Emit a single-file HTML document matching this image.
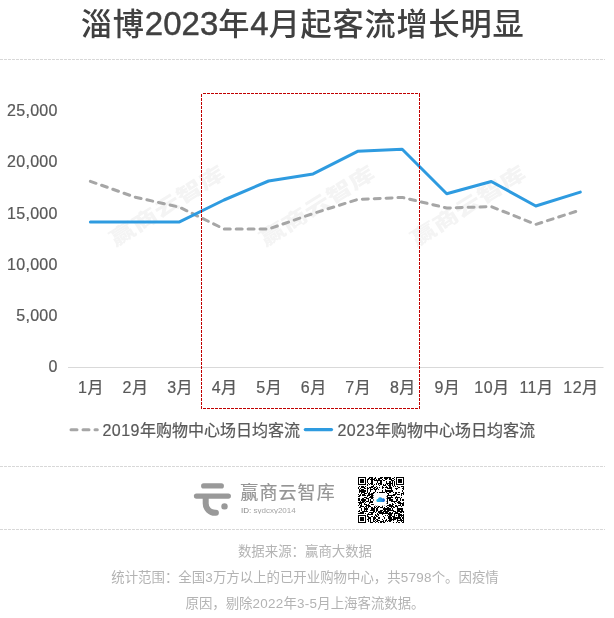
<!DOCTYPE html>
<html lang="zh-CN">
<head>
<meta charset="utf-8">
<title>淄博2023年4月起客流增长明显</title>
<style>
html,body{margin:0;padding:0;background:#fff;}
body{width:614px;height:618px;position:relative;overflow:hidden;font-family:"Liberation Sans","Noto Sans CJK SC",sans-serif;}
.abs{position:absolute;}
#title{position:absolute;left:0;width:605.4px;top:0px;height:48px;line-height:48px;text-align:center;font-size:31.2px;letter-spacing:0.8px;font-weight:500;color:#404040;white-space:nowrap;}
.td{font-size:33px;letter-spacing:0;-webkit-text-stroke:0.45px #404040;}
.rh{position:absolute;height:1px;background:repeating-linear-gradient(to right,#c00000 0,#c00000 3px,transparent 3px,transparent 4px);}
.rv{position:absolute;width:1px;background:repeating-linear-gradient(to bottom,#c00000 0,#c00000 3px,transparent 3px,transparent 4px);}
.dv{position:absolute;left:0;width:605px;height:1px;background:repeating-linear-gradient(to right,#d8d8d8 0,#d8d8d8 3px,transparent 3px,transparent 4px);}
.d{letter-spacing:0.45px;}
.yl,.xl,.lg{-webkit-text-stroke:0.22px #595959;}
.fd{letter-spacing:0.3px;}
.yl{position:absolute;left:0;width:57.75px;letter-spacing:0.3px;height:20px;line-height:20px;text-align:right;font-size:16px;color:#595959;white-space:nowrap;}
.xl{position:absolute;top:378px;width:60px;height:20px;line-height:20px;text-align:center;font-size:16px;color:#595959;white-space:nowrap;}
.lg{position:absolute;top:421px;height:20px;line-height:20px;font-size:16px;color:#595959;white-space:nowrap;}
.wm{position:absolute;width:160px;height:40px;line-height:40px;text-align:center;font-size:20px;font-weight:900;letter-spacing:0.3px;padding-left:0.3px;box-sizing:border-box;color:#f4f4f4;transform:rotate(-32.3deg) scaleX(1.3);white-space:nowrap;}
#brand{position:absolute;left:240.3px;top:480px;height:26px;line-height:26px;font-size:18px;font-weight:400;letter-spacing:1.1px;color:#959595;-webkit-text-stroke:0.2px #959595;white-space:nowrap;}
#bid{position:absolute;left:241px;top:503.9px;height:24px;line-height:24px;font-size:16px;color:#a4a4a4;white-space:nowrap;transform:scale(0.5);transform-origin:0 0;}
.ft{position:absolute;left:0;width:610px;height:26px;line-height:26px;text-align:center;font-size:13.42px;color:#b3b3b3;white-space:nowrap;}
svg{position:absolute;left:0;top:0;}
</style>
</head>
<body>
<div class="wm" style="left:86.5px;top:186.2px">赢商云智库</div>
<div class="wm" style="left:237px;top:186.2px">赢商云智库</div>
<div class="wm" style="left:387.5px;top:186.2px">赢商云智库</div>

<div id="title">淄博<span class="td">2023</span>年<span class="td">4</span>月起客流增长明显</div>
<div class="dv" style="top:59px"></div>
<div class="yl" style="top:101.1px">25,000</div>
<div class="yl" style="top:152.3px">20,000</div>
<div class="yl" style="top:203.6px">15,000</div>
<div class="yl" style="top:254.8px">10,000</div>
<div class="yl" style="top:306.1px">5,000</div>
<div class="yl" style="top:357.3px">0</div>

<div class="xl" style="left:60.8px"><span class="d">1</span>月</div>
<div class="xl" style="left:105.3px"><span class="d">2</span>月</div>
<div class="xl" style="left:149.9px"><span class="d">3</span>月</div>
<div class="xl" style="left:194.4px"><span class="d">4</span>月</div>
<div class="xl" style="left:239.0px"><span class="d">5</span>月</div>
<div class="xl" style="left:283.5px"><span class="d">6</span>月</div>
<div class="xl" style="left:328.0px"><span class="d">7</span>月</div>
<div class="xl" style="left:372.6px"><span class="d">8</span>月</div>
<div class="xl" style="left:417.1px"><span class="d">9</span>月</div>
<div class="xl" style="left:461.7px"><span class="d">10</span>月</div>
<div class="xl" style="left:506.2px"><span class="d">11</span>月</div>
<div class="xl" style="left:550.7px"><span class="d">12</span>月</div>

<svg width="614" height="618" viewBox="0 0 614 618">
  <line x1="68" y1="367.5" x2="603.5" y2="367.5" stroke="#d9d9d9" stroke-width="1"/>
  <polyline points="90.4,181.3 134.9,197.1 179.5,207.2 224.0,229.0 268.6,229.0 313.1,213.5 357.6,199.5 402.2,197.4 446.7,208.0 491.3,206.6 535.8,224.4 580.3,210.0" fill="none" stroke="#a6a6a6" stroke-width="3" stroke-dasharray="5.95 5.95" stroke-linejoin="round" stroke-linecap="round"/>
  <polyline points="90.4,221.9 134.9,221.9 179.5,221.9 224.0,200.0 268.6,181.0 313.1,173.9 357.6,151.3 402.2,149.3 446.7,193.7 491.3,181.5 535.8,206.0 580.3,192.1" fill="none" stroke="#2e9be0" stroke-width="3" stroke-linejoin="round" stroke-linecap="round"/>
  <!-- legend samples -->
  <line x1="71" y1="429.8" x2="97.3" y2="429.8" stroke="#a6a6a6" stroke-width="3" stroke-dasharray="6 6" stroke-linecap="round"/>
  <line x1="305.3" y1="429.6" x2="331.5" y2="429.6" stroke="#2e9be0" stroke-width="3.2" stroke-linecap="round"/>
  <!-- logo -->
  <g fill="none" stroke="#999" stroke-linecap="round">
    <line x1="203.6" y1="485.9" x2="221.4" y2="485.9" stroke-width="5.1"/>
    <line x1="196.5" y1="496.1" x2="228.3" y2="496.1" stroke-width="5.3"/>
    <path d="M205.7 497 V503.4 A9.4 9.4 0 0 0 215.1 512.8 H215.9" stroke-width="6"/>
  </g>
  <circle cx="224.5" cy="506.4" r="3.2" fill="#999"/>
  <!-- qr -->
  <g transform="translate(358 477)">
    <rect x="-1" y="-1" width="48" height="48" fill="#fff"/>
    <path d="M0 0h8v1h-8zM11 0h4v1h-4zM17 0h1v1h-1zM22 0h3v1h-3zM26 0h7v1h-7zM36 0h1v1h-1zM38 0h8v1h-8zM0 1h1v1h-1zM7 1h1v1h-1zM10 1h2v1h-2zM13 1h2v1h-2zM16 1h2v1h-2zM20 1h4v1h-4zM26 1h4v1h-4zM31 1h2v1h-2zM34 1h2v1h-2zM38 1h1v1h-1zM45 1h1v1h-1zM0 2h1v1h-1zM2 2h4v1h-4zM7 2h1v1h-1zM9 2h2v1h-2zM12 2h5v1h-5zM18 2h1v1h-1zM20 2h2v1h-2zM24 2h1v1h-1zM27 2h2v1h-2zM31 2h3v1h-3zM36 2h1v1h-1zM38 2h1v1h-1zM40 2h4v1h-4zM45 2h1v1h-1zM0 3h1v1h-1zM2 3h4v1h-4zM7 3h1v1h-1zM9 3h1v1h-1zM13 3h2v1h-2zM16 3h8v1h-8zM25 3h2v1h-2zM33 3h3v1h-3zM38 3h1v1h-1zM40 3h4v1h-4zM45 3h1v1h-1zM0 4h1v1h-1zM2 4h4v1h-4zM7 4h1v1h-1zM9 4h1v1h-1zM13 4h2v1h-2zM19 4h1v1h-1zM22 4h2v1h-2zM28 4h1v1h-1zM31 4h2v1h-2zM34 4h1v1h-1zM36 4h1v1h-1zM38 4h1v1h-1zM40 4h4v1h-4zM45 4h1v1h-1zM0 5h1v1h-1zM2 5h4v1h-4zM7 5h1v1h-1zM9 5h1v1h-1zM13 5h2v1h-2zM19 5h1v1h-1zM22 5h2v1h-2zM28 5h1v1h-1zM31 5h2v1h-2zM34 5h1v1h-1zM36 5h1v1h-1zM38 5h1v1h-1zM40 5h4v1h-4zM45 5h1v1h-1zM0 6h1v1h-1zM7 6h1v1h-1zM10 6h1v1h-1zM12 6h3v1h-3zM18 6h1v1h-1zM20 6h4v1h-4zM28 6h7v1h-7zM36 6h1v1h-1zM38 6h1v1h-1zM45 6h1v1h-1zM0 7h8v1h-8zM9 7h1v1h-1zM11 7h1v1h-1zM13 7h2v1h-2zM16 7h1v1h-1zM18 7h1v1h-1zM20 7h1v1h-1zM22 7h2v1h-2zM25 7h1v1h-1zM27 7h1v1h-1zM29 7h1v1h-1zM31 7h2v1h-2zM34 7h1v1h-1zM36 7h1v1h-1zM38 7h8v1h-8zM9 8h1v1h-1zM15 8h1v1h-1zM21 8h1v1h-1zM25 8h3v1h-3zM30 8h3v1h-3zM34 8h1v1h-1zM36 8h1v1h-1zM1 9h1v1h-1zM3 9h3v1h-3zM7 9h1v1h-1zM13 9h3v1h-3zM18 9h1v1h-1zM24 9h1v1h-1zM28 9h1v1h-1zM31 9h2v1h-2zM35 9h1v1h-1zM37 9h1v1h-1zM39 9h1v1h-1zM43 9h3v1h-3zM0 10h1v1h-1zM3 10h4v1h-4zM9 10h1v1h-1zM11 10h4v1h-4zM16 10h2v1h-2zM19 10h1v1h-1zM21 10h1v1h-1zM24 10h2v1h-2zM27 10h3v1h-3zM31 10h3v1h-3zM40 10h2v1h-2zM45 10h1v1h-1zM0 11h1v1h-1zM2 11h1v1h-1zM6 11h2v1h-2zM9 11h2v1h-2zM12 11h1v1h-1zM15 11h2v1h-2zM18 11h2v1h-2zM24 11h1v1h-1zM29 11h5v1h-5zM37 11h3v1h-3zM44 11h2v1h-2zM1 12h1v1h-1zM3 12h3v1h-3zM9 12h1v1h-1zM12 12h3v1h-3zM16 12h3v1h-3zM20 12h1v1h-1zM27 12h1v1h-1zM33 12h1v1h-1zM38 12h1v1h-1zM45 12h1v1h-1zM1 13h7v1h-7zM9 13h1v1h-1zM12 13h1v1h-1zM17 13h1v1h-1zM24 13h1v1h-1zM27 13h8v1h-8zM44 13h1v1h-1zM1 14h7v1h-7zM9 14h1v1h-1zM12 14h1v1h-1zM17 14h1v1h-1zM24 14h1v1h-1zM27 14h8v1h-8zM44 14h1v1h-1zM1 15h1v1h-1zM3 15h4v1h-4zM9 15h1v1h-1zM11 15h1v1h-1zM15 15h2v1h-2zM19 15h1v1h-1zM21 15h6v1h-6zM28 15h1v1h-1zM31 15h2v1h-2zM35 15h1v1h-1zM37 15h2v1h-2zM40 15h2v1h-2zM45 15h1v1h-1zM3 16h1v1h-1zM6 16h3v1h-3zM10 16h2v1h-2zM13 16h3v1h-3zM17 16h1v1h-1zM24 16h2v1h-2zM29 16h2v1h-2zM37 16h2v1h-2zM43 16h3v1h-3zM0 17h1v1h-1zM2 17h1v1h-1zM4 17h3v1h-3zM10 17h5v1h-5zM17 17h2v1h-2zM22 17h4v1h-4zM27 17h1v1h-1zM30 17h1v1h-1zM35 17h3v1h-3zM39 17h3v1h-3zM43 17h1v1h-1zM45 17h1v1h-1zM1 18h2v1h-2zM4 18h4v1h-4zM9 18h3v1h-3zM13 18h3v1h-3zM21 18h1v1h-1zM24 18h3v1h-3zM29 18h8v1h-8zM43 18h1v1h-1zM0 19h2v1h-2zM9 19h1v1h-1zM12 19h3v1h-3zM17 19h1v1h-1zM28 19h2v1h-2zM33 19h1v1h-1zM38 19h1v1h-1zM6 20h3v1h-3zM11 20h6v1h-6zM29 20h6v1h-6zM37 20h5v1h-5zM43 20h1v1h-1zM0 21h2v1h-2zM4 21h2v1h-2zM8 21h3v1h-3zM13 21h2v1h-2zM17 21h1v1h-1zM28 21h5v1h-5zM37 21h1v1h-1zM39 21h1v1h-1zM42 21h1v1h-1zM0 22h2v1h-2zM3 22h5v1h-5zM10 22h1v1h-1zM12 22h1v1h-1zM15 22h1v1h-1zM17 22h1v1h-1zM29 22h1v1h-1zM31 22h4v1h-4zM38 22h2v1h-2zM42 22h1v1h-1zM44 22h2v1h-2zM0 23h2v1h-2zM3 23h5v1h-5zM10 23h1v1h-1zM12 23h1v1h-1zM15 23h1v1h-1zM17 23h1v1h-1zM29 23h1v1h-1zM31 23h4v1h-4zM38 23h2v1h-2zM42 23h1v1h-1zM44 23h2v1h-2zM2 24h1v1h-1zM4 24h3v1h-3zM8 24h3v1h-3zM12 24h3v1h-3zM16 24h1v1h-1zM28 24h2v1h-2zM33 24h6v1h-6zM40 24h2v1h-2zM0 25h6v1h-6zM7 25h1v1h-1zM11 25h4v1h-4zM16 25h2v1h-2zM29 25h1v1h-1zM36 25h1v1h-1zM39 25h4v1h-4zM45 25h1v1h-1zM1 26h3v1h-3zM6 26h1v1h-1zM11 26h1v1h-1zM17 26h1v1h-1zM28 26h2v1h-2zM34 26h1v1h-1zM37 26h1v1h-1zM40 26h6v1h-6zM1 27h1v1h-1zM3 27h1v1h-1zM6 27h3v1h-3zM10 27h1v1h-1zM13 27h3v1h-3zM31 27h2v1h-2zM34 27h2v1h-2zM42 27h1v1h-1zM44 27h2v1h-2zM0 28h1v1h-1zM2 28h2v1h-2zM8 28h4v1h-4zM17 28h1v1h-1zM19 28h1v1h-1zM24 28h1v1h-1zM26 28h1v1h-1zM29 28h6v1h-6zM37 28h2v1h-2zM40 28h3v1h-3zM44 28h2v1h-2zM2 29h4v1h-4zM7 29h2v1h-2zM10 29h3v1h-3zM16 29h1v1h-1zM18 29h1v1h-1zM20 29h2v1h-2zM24 29h1v1h-1zM28 29h1v1h-1zM31 29h5v1h-5zM37 29h3v1h-3zM43 29h1v1h-1zM1 30h2v1h-2zM6 30h1v1h-1zM8 30h1v1h-1zM10 30h1v1h-1zM13 30h2v1h-2zM16 30h2v1h-2zM19 30h2v1h-2zM22 30h3v1h-3zM26 30h1v1h-1zM29 30h2v1h-2zM33 30h1v1h-1zM35 30h2v1h-2zM39 30h1v1h-1zM3 31h1v1h-1zM6 31h4v1h-4zM13 31h4v1h-4zM18 31h2v1h-2zM25 31h8v1h-8zM34 31h1v1h-1zM39 31h6v1h-6zM3 32h1v1h-1zM6 32h4v1h-4zM13 32h4v1h-4zM18 32h2v1h-2zM25 32h8v1h-8zM34 32h1v1h-1zM39 32h6v1h-6zM1 33h1v1h-1zM3 33h1v1h-1zM6 33h1v1h-1zM8 33h1v1h-1zM12 33h5v1h-5zM18 33h2v1h-2zM22 33h3v1h-3zM26 33h2v1h-2zM29 33h7v1h-7zM39 33h3v1h-3zM43 33h2v1h-2zM0 34h2v1h-2zM4 34h6v1h-6zM15 34h2v1h-2zM18 34h1v1h-1zM20 34h4v1h-4zM25 34h6v1h-6zM35 34h3v1h-3zM39 34h7v1h-7zM2 35h4v1h-4zM11 35h5v1h-5zM17 35h1v1h-1zM20 35h6v1h-6zM27 35h3v1h-3zM31 35h2v1h-2zM34 35h1v1h-1zM37 35h3v1h-3zM42 35h2v1h-2zM45 35h1v1h-1zM0 36h6v1h-6zM7 36h1v1h-1zM10 36h1v1h-1zM13 36h2v1h-2zM19 36h1v1h-1zM21 36h14v1h-14zM36 36h6v1h-6zM9 37h6v1h-6zM17 37h1v1h-1zM19 37h2v1h-2zM24 37h1v1h-1zM30 37h4v1h-4zM36 37h1v1h-1zM40 37h4v1h-4zM45 37h1v1h-1zM0 38h8v1h-8zM9 38h1v1h-1zM17 38h2v1h-2zM20 38h1v1h-1zM27 38h1v1h-1zM29 38h1v1h-1zM31 38h3v1h-3zM36 38h1v1h-1zM38 38h1v1h-1zM40 38h6v1h-6zM0 39h1v1h-1zM7 39h1v1h-1zM9 39h2v1h-2zM13 39h2v1h-2zM16 39h1v1h-1zM18 39h2v1h-2zM25 39h1v1h-1zM30 39h3v1h-3zM34 39h3v1h-3zM40 39h2v1h-2zM43 39h1v1h-1zM45 39h1v1h-1zM0 40h1v1h-1zM2 40h4v1h-4zM7 40h1v1h-1zM10 40h3v1h-3zM15 40h3v1h-3zM20 40h2v1h-2zM26 40h1v1h-1zM30 40h4v1h-4zM35 40h8v1h-8zM44 40h2v1h-2zM0 41h1v1h-1zM2 41h4v1h-4zM7 41h1v1h-1zM10 41h3v1h-3zM15 41h3v1h-3zM20 41h2v1h-2zM26 41h1v1h-1zM30 41h4v1h-4zM35 41h8v1h-8zM44 41h2v1h-2zM0 42h1v1h-1zM2 42h4v1h-4zM7 42h1v1h-1zM9 42h2v1h-2zM12 42h1v1h-1zM15 42h2v1h-2zM18 42h2v1h-2zM24 42h1v1h-1zM28 42h1v1h-1zM31 42h7v1h-7zM39 42h1v1h-1zM42 42h2v1h-2zM45 42h1v1h-1zM0 43h1v1h-1zM2 43h4v1h-4zM7 43h1v1h-1zM10 43h1v1h-1zM12 43h1v1h-1zM15 43h1v1h-1zM17 43h1v1h-1zM19 43h3v1h-3zM25 43h1v1h-1zM27 43h2v1h-2zM30 43h4v1h-4zM35 43h1v1h-1zM39 43h7v1h-7zM0 44h1v1h-1zM7 44h1v1h-1zM10 44h1v1h-1zM12 44h1v1h-1zM15 44h2v1h-2zM18 44h2v1h-2zM22 44h4v1h-4zM27 44h1v1h-1zM29 44h1v1h-1zM31 44h2v1h-2zM39 44h1v1h-1zM43 44h1v1h-1zM45 44h1v1h-1zM0 45h8v1h-8zM12 45h3v1h-3zM17 45h1v1h-1zM20 45h1v1h-1zM22 45h2v1h-2zM25 45h2v1h-2zM35 45h1v1h-1zM38 45h1v1h-1zM40 45h2v1h-2zM44 45h2v1h-2z" fill="#000" shape-rendering="crispEdges"/>
    <rect x="15.6" y="16" width="12.9" height="12.8" rx="2" fill="#fff"/>
    <defs><linearGradient id="cg" x1="0" y1="0" x2="1" y2="0"><stop offset="0" stop-color="#2cc4ea"/><stop offset="0.55" stop-color="#2a9de6"/><stop offset="1" stop-color="#1c5fd0"/></linearGradient></defs>
    <path d="M19.3 25.0 a1.55 1.55 0 0 1 0.6-3.0 a2.35 2.35 0 0 1 4.35-0.6 a1.9 1.9 0 0 1 1.55 3.6 z" fill="url(#cg)"/>
  </g>
</svg>
<div class="rh" style="left:203px;top:93px;width:215px"></div>
<div class="rh" style="left:203px;top:408px;width:215px"></div>
<div class="rv" style="left:201px;top:94px;height:315px"></div>
<div class="rv" style="left:419px;top:94px;height:315px"></div>
<div class="rv" style="left:419px;top:93px;height:1px"></div>
<div class="lg" style="left:102.5px"><span class="d">2019</span>年购物中心场日均客流</div>
<div class="lg" style="left:337.5px"><span class="d">2023</span>年购物中心场日均客流</div>
<div class="dv" style="top:466px"></div>
<div id="brand">赢商云智库</div>
<div id="bid"><span style="color:#858585">ID:</span> sydcxy2014</div>
<div class="dv" style="top:529px"></div>
<div class="ft" style="top:538.5px">数据来源：赢商大数据</div>
<div class="ft" style="top:564.5px">统计范围：全国<span class="fd">3</span>万方以上的已开业购物中心，共<span class="fd">5798</span>个。因疫情</div>
<div class="ft" style="top:590.5px">原因，剔除<span class="fd">2022</span>年<span class="fd">3-5</span>月上海客流数据。</div>
</body>
</html>
